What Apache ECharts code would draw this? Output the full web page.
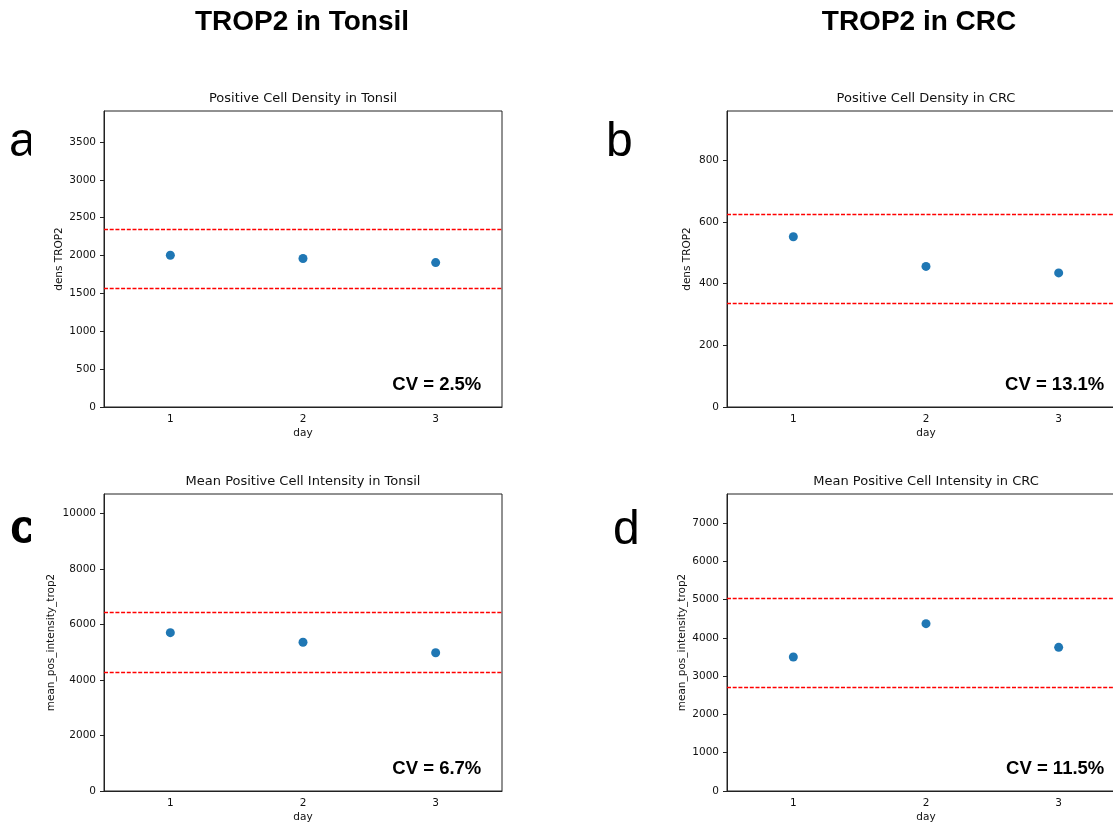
<!DOCTYPE html>
<html>
<head>
<meta charset="utf-8">
<script src="https://cdn.jsdelivr.net/npm/echarts@6/dist/echarts.min.js"></script>
<style>
  html, body { margin: 0; padding: 0; background: #fff; }
  #chart { width: 1113px; height: 823px; }
</style>
</head>
<body>
<div id="chart"></div>
<script>
const days = ['1', '2', '3']

// values
const densTonsil = [2005, 1962, 1908]
const densCrc = [552, 456, 435]
const intTonsil = [5705, 5357, 4982]
const intCrc = [3500, 4372, 3754]

// red dashed limits (lower, upper)
const densTonsilLimits = [1570, 2354]
const densCrcLimits = [336, 625]
const intTonsilLimits = [4285, 6426]
const intCrcLimits = [2707, 5045]

const cvLabels = ['CV = 2.5%', 'CV = 13.1%', 'CV = 6.7%', 'CV = 11.5%']
const panelTitles = [
  'Positive Cell Density in Tonsil',
  'Positive Cell Density in CRC',
  'Mean Positive Cell Intensity in Tonsil',
  'Mean Positive Cell Intensity in CRC'
]
const yNames = ['dens TROP2', 'dens TROP2', 'mean_pos_intensity_trop2', 'mean_pos_intensity_trop2']
const yMax = [3910, 960, 10700, 7760]
const yStep = [500, 200, 2000, 1000]

const panels = [
  { data: densTonsil, limits: densTonsilLimits, left: 104, top: 111, height: 296, gap: 39 },
  { data: densCrc, limits: densCrcLimits, left: 727, top: 111, height: 296, gap: 34 },
  { data: intTonsil, limits: intTonsilLimits, left: 104, top: 494, height: 297, gap: 47 },
  { data: intCrc, limits: intCrcLimits, left: 727, top: 494, height: 297, gap: 39 }
]

const tickFont = 'DejaVu Sans'
const chart = echarts.init(document.getElementById('chart'))

const grid = [], xAxis = [], yAxis = [], series = [], graphic = []
const W = 398

panels.forEach(function (p, i) {
  grid.push({
    left: p.left, top: p.top, width: W, height: p.height,
    outerBoundsMode: 'none', containLabel: false,
    show: true, borderColor: '#222', borderWidth: 1, backgroundColor: 'transparent'
  })
  xAxis.push({
    type: 'category', gridIndex: i, data: days, boundaryGap: true,
    name: 'day', nameLocation: 'middle', nameGap: 21,
    nameTextStyle: { fontFamily: tickFont, fontSize: 10.5, color: '#111' },
    axisLine: { lineStyle: { color: '#222', width: 1 } },
    axisTick: { alignWithLabel: true, length: 4, lineStyle: { color: '#222' } },
    axisLabel: { fontFamily: tickFont, fontSize: 10.5, color: '#111', margin: 7 },
    splitLine: { show: false }
  })
  yAxis.push({
    type: 'value', gridIndex: i, min: 0, max: yMax[i], interval: yStep[i],
    name: yNames[i], nameLocation: 'middle', nameGap: p.gap, nameRotate: 90,
    nameTextStyle: { fontFamily: tickFont, fontSize: 10.5, color: '#111' },
    axisLine: { show: true, lineStyle: { color: '#222', width: 1 } },
    axisTick: { show: true, length: 4, lineStyle: { color: '#222' } },
    axisLabel: {
      fontFamily: tickFont, fontSize: 10.5, color: '#111', margin: 8, showMaxLabel: false,
      formatter: function (v) { return String(v) }
    },
    splitLine: { show: false }
  })
  const redDash = { color: '#ff0000', type: [4, 1.7], width: 1.3 }
  series.push({
    type: 'scatter', xAxisIndex: i, yAxisIndex: i,
    data: p.data, symbolSize: 9,
    itemStyle: { color: '#1f77b4', opacity: 1 },
    emphasis: { disabled: true },
    markLine: {
      silent: true, symbol: 'none', animation: false,
      label: { show: false },
      lineStyle: redDash,
      data: p.limits.map(function (v) { return { yAxis: v, lineStyle: redDash } })
    }
  })
  // subplot title
  graphic.push({
    type: 'text', x: p.left + W / 2, y: p.top - 12,
    style: {
      text: panelTitles[i], fontFamily: tickFont, fontSize: 13, fill: '#111',
      textAlign: 'center', textVerticalAlign: 'middle', align: 'center', verticalAlign: 'middle'
    }
  })
  // CV annotation
  graphic.push({
    type: 'text', x: p.left + W * 0.948, y: p.top + p.height - 22,
    style: {
      text: cvLabels[i], fontFamily: 'Liberation Sans', fontWeight: 'bold', fontSize: 18.5, fill: '#000',
      textAlign: 'right', textVerticalAlign: 'middle', align: 'right', verticalAlign: 'middle'
    }
  })
})

const mainTitles = [
  { text: 'TROP2 in Tonsil', x: 302 },
  { text: 'TROP2 in CRC', x: 919 }
]
mainTitles.forEach(function (t) {
  graphic.push({
    type: 'text', x: t.x, y: 22,
    style: {
      text: t.text, fontFamily: 'Liberation Sans', fontWeight: 'bold', fontSize: 28, fill: '#000',
      textAlign: 'center', textVerticalAlign: 'middle', align: 'center', verticalAlign: 'middle'
    }
  })
})

// panel letters
const letters = [
  { text: 'a', x: 9, y: 143, bold: false },
  { text: 'b', x: 606, y: 143, bold: false },
  { text: 'c', x: 10, y: 530, bold: true },
  { text: 'd', x: 613, y: 531, bold: false }
]
letters.forEach(function (l) {
  graphic.push({
    type: 'text', x: l.x, y: l.y, z: 10,
    style: {
      text: l.text, fontFamily: 'Liberation Sans', fontWeight: l.bold ? 'bold' : 'normal', fontSize: 48, fill: '#000',
      textAlign: 'left', textVerticalAlign: 'middle', align: 'left', verticalAlign: 'middle'
    }
  })
})
// the letters a and c are cut off on the right in the original
graphic.push({ type: 'rect', z: 11, shape: { x: 31, y: 118, width: 14, height: 50 }, style: { fill: '#fff' } })
graphic.push({ type: 'rect', z: 11, shape: { x: 31, y: 503, width: 14, height: 50 }, style: { fill: '#fff' } })

chart.setOption({
  animation: false,
  grid: grid,
  xAxis: xAxis,
  yAxis: yAxis,
  series: series,
  graphic: graphic
})
</script>
</body>
</html>
